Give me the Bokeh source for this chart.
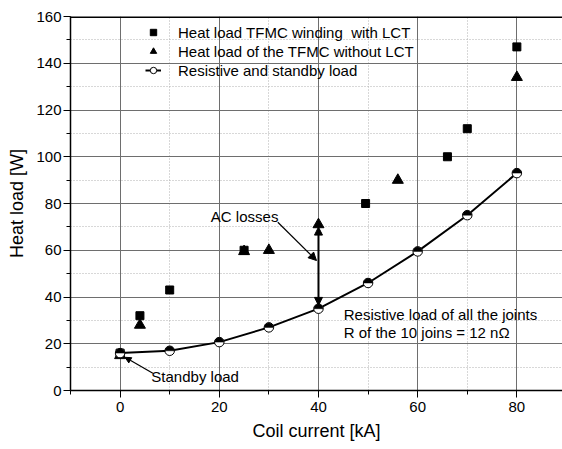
from bokeh.plotting import figure
from bokeh.models import (Range1d, SingleIntervalTicker, Legend, LegendItem, Label,
                          Arrow, NormalHead, Span)
from bokeh.embed import file_html
from bokeh.resources import INLINE
import math

# ---- data ----
current_res = [0, 10, 20, 30, 40, 50, 60, 70, 80]
load_res = [16, 17, 20.7, 27, 35, 46, 59.5, 75, 93]

current_lct = [0, 4, 10, 25, 49.5, 66, 70, 80]
load_lct = [16, 32, 43, 60, 80, 100, 112, 147]

current_nolct = [0, 4, 25, 30, 40, 56, 80]
load_nolct = [15, 28, 59.5, 60, 71, 90, 134]

x_ticks_interval = 20
y_ticks_interval = 20

FONT = "Liberation Sans"

p = figure(width=562, height=449, x_range=Range1d(-10, 89.2), y_range=Range1d(0, 160),
           output_backend="svg", toolbar_location=None,
           min_border_left=70, min_border_right=0, min_border_top=16, min_border_bottom=59,
           background_fill_color="white", border_fill_color="white")
p.outline_line_color = None

xt = SingleIntervalTicker(interval=x_ticks_interval, num_minor_ticks=2)
yt = SingleIntervalTicker(interval=y_ticks_interval, num_minor_ticks=2)
p.xaxis.ticker = xt
p.yaxis.ticker = yt
p.xgrid.ticker = xt
p.ygrid.ticker = yt

for g in (p.xgrid, p.ygrid):
    g.grid_line_color = "#6e6e6e"
    g.grid_line_width = 1
    g.minor_grid_line_color = "#b0b0b0"
    g.minor_grid_line_dash = "1 2"
    g.minor_grid_line_width = 1

p.xaxis.axis_label = "Coil current [kA]"
p.yaxis.axis_label = "Heat load [W]"
for ax in (p.xaxis, p.yaxis):
    ax.axis_line_color = "black"
    ax.axis_line_width = 1.5
    ax.major_tick_line_color = "black"
    ax.minor_tick_line_color = "black"
    ax.major_tick_out = 7
    ax.major_tick_in = 0
    ax.minor_tick_out = 4
    ax.minor_tick_in = 0
    ax.major_label_text_font = FONT
    ax.major_label_text_font_size = "15px"
    ax.major_label_text_color = "black"
    ax.axis_label_text_font = FONT
    ax.axis_label_text_font_size = "18px"
    ax.axis_label_text_font_style = "normal"
    ax.axis_label_text_color = "black"
p.xaxis.major_label_standoff = 4
p.yaxis.major_label_standoff = 2
p.xaxis.axis_label_standoff = 6
p.yaxis.axis_label_standoff = 6

p.add_layout(Span(location=160, dimension="width", line_color="black", line_width=3))

tri = p.scatter(current_nolct, load_nolct, marker="triangle", size=11,
                fill_color="black", line_color="black")
sq = p.scatter(current_lct, load_lct, marker="square", size=8,
               fill_color="black", line_color="black")
ln = p.line(current_res, load_res, line_color="black", line_width=2)
circ = p.scatter(current_res, load_res, marker="circle", size=9.5,
                 fill_color="white", line_color="black", line_width=1)
p.wedge(current_res, load_res, radius=4.5, radius_units="screen",
        start_angle=0, end_angle=math.pi, fill_color="black", line_color="black",
        line_width=0.5)

legend = Legend(items=[
    LegendItem(label="Heat load TFMC winding  with LCT", renderers=[sq]),
    LegendItem(label="Heat load of the TFMC without LCT", renderers=[tri]),
    LegendItem(label="Resistive and standby load", renderers=[ln, circ]),
], location=(75, 311))
legend.border_line_color = None
legend.background_fill_alpha = 0
legend.label_text_font = FONT
legend.label_text_font_size = "15px"
legend.label_text_color = "black"
legend.glyph_width = 16
legend.glyph_height = 18
legend.label_height = 18
legend.label_standoff = 17
legend.spacing = 1
legend.padding = 0
legend.margin = 0
p.add_layout(legend)

def lab(x, y, t):
    p.add_layout(Label(x=x, y=y, text=t, text_font=FONT, text_font_size="15px",
                       text_color="black", text_baseline="middle", text_align="left"))

lab(18.3, 74.4, "AC losses")
lab(6.3, 6.0, "Standby load")
lab(45.1, 32.5, "Resistive load of all the joints")
lab(45.1, 24.7, "R of the 10 joins = 12 n\u03a9")

p.add_layout(Arrow(end=NormalHead(size=8, fill_color="black", line_color="black"),
                   x_start=31.8, y_start=72, x_end=39.6, y_end=55.6,
                   line_color="black", line_width=1.2))
p.add_layout(Arrow(start=NormalHead(size=8, fill_color="black", line_color="black"),
                   end=NormalHead(size=8, fill_color="black", line_color="black"),
                   x_start=40, y_start=36.4, x_end=40, y_end=69.9,
                   line_color="black", line_width=2))
p.add_layout(Arrow(end=NormalHead(size=6, fill_color="black", line_color="black"),
                   x_start=6.6, y_start=7.4, x_end=1.0, y_end=14.2,
                   line_color="black", line_width=1.2))

open("out.html", "w").write(file_html(p, INLINE))
